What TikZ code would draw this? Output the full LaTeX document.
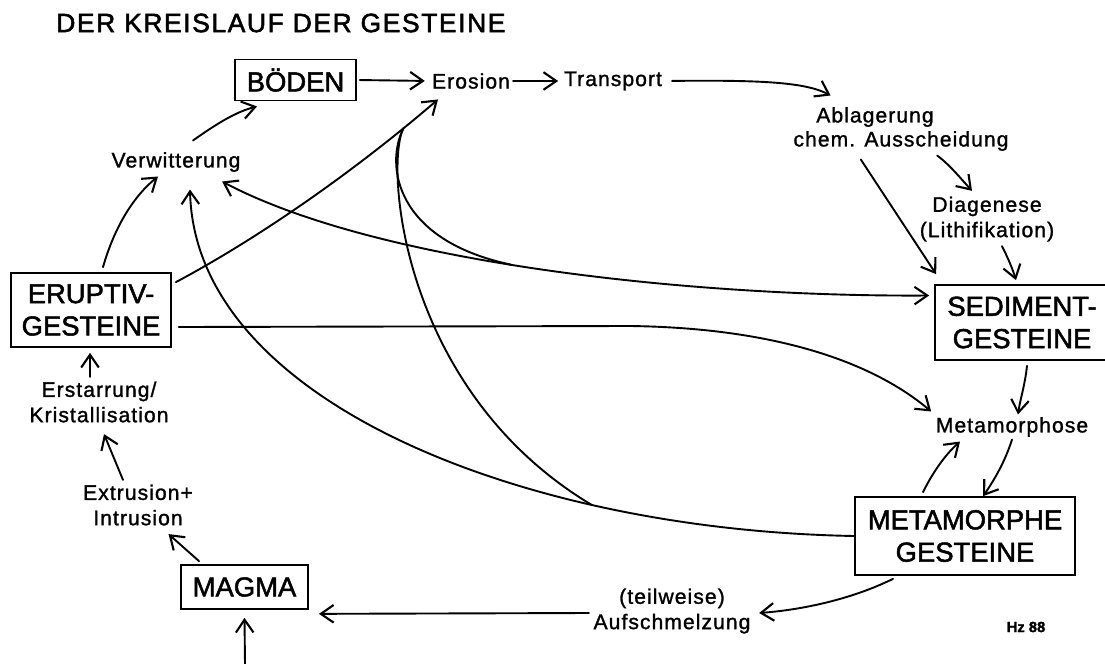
\documentclass[tikz,border=0pt]{standalone}
\usepackage{fontspec}
\setmainfont[FakeBold=1.6]{Liberation Sans}
\newfontfamily\rockfamily[FakeBold=1.8]{Liberation Sans}
\newfontfamily\lblfamily[LetterSpace=5, FakeBold=1.3]{Liberation Sans}
\newfontfamily\ttlfamily[LetterSpace=6, FakeBold=2]{Liberation Sans}
\usetikzlibrary{arrows.meta,calc}
\tikzset{
  >={Straight Barb[length=3.2mm,width=4.4mm,line width=1.5pt]},
  cyclearrow/.style={->, line width=1.35pt, line cap=round, line join=round},
  twoarrow/.style={<->, line width=1.35pt, line cap=round, line join=round},
  plainline/.style={line width=1.35pt, line cap=round},
  steplabel/.style={font=\lblfamily\fontsize{15}{18}\selectfont, align=center, inner sep=1pt}
}

\begin{document}
\begin{tikzpicture}[
  x=0.025cm, y=-0.025cm,
  rock/.style={draw, line width=1.2pt, align=center, inner sep=0pt, font=\rockfamily\fontsize{19.5}{23}\selectfont}
]
\useasboundingbox (0,0) rectangle (1105,664);

% title
\node[anchor=west, inner sep=0pt, font=\ttlfamily\fontsize{18.8}{22}\selectfont] (title) at (56,23) {DER KREISLAUF DER GESTEINE};

% rocks
\node[rock, minimum width=3.03cm, minimum height=1.03cm] (boden) at (295.5,80) {BÖDEN};
\node[rock, minimum width=4cm, minimum height=1.85cm] (erupt) at (91,310) {ERUPTIV-\\GESTEINE};
\node[rock, minimum width=4.35cm, minimum height=1.875cm] (sedim) at (1022,322.5) {SEDIMENT-\\GESTEINE};
\node[rock, minimum width=5.5cm, minimum height=1.95cm] (metam) at (965,536) {METAMORPHE\\GESTEINE};
\node[rock, minimum width=3.18cm, minimum height=1.1cm] (magma) at (244.5,587) {MAGMA};

% processes
\node[steplabel] (verwitt) at (176,162) {Verwitterung};
\node[steplabel] (erosion) at (471,81) {Erosion};
\node[steplabel] (transport) at (613,81) {Transport};
\node[steplabel] (ablag) at (875,117) {Ablagerung};
\node[steplabel] (chem) at (901,141) {chem. Ausscheidung};
\node[steplabel] (diagen) at (987,219) {Diagenese\\(Lithifikation)};
\node[steplabel] (metaphose) at (1012,427) {Metamorphose};
\node[steplabel] (aufs) at (672,611) {(teilweise)\\Aufschmelzung};
\node[steplabel] (extru) at (138,505) {Extrusion+\\Intrusion};
\node[steplabel] (erstarr) at (99,402) {Erstarrung/\\Kristallisation};
\node[inner sep=0pt, font=\bfseries\fontsize{10.5}{12}\selectfont] (hz) at (1026,627) {Hz 88};
\coordinate (magmain) at (245,664);

% upper track
\draw[cyclearrow, shorten <=2pt, shorten >=4pt] (boden.east) -- (erosion.west);
\draw[cyclearrow, shorten <=1pt, shorten >=3pt] (erosion.east) -- (transport.west);
\draw[cyclearrow, shorten <=6pt] (transport.east) .. controls (760,80) and (805,82) .. ($(ablag.north west)+(16,-10)$);
\draw[cyclearrow] ($(chem.south west)+(69,7)$) -- ($(sedim.north west)+(2,-10)$);
\draw[cyclearrow] ($(chem.south east)+(-73,3)$) .. controls (950,165) and (962,180) .. ($(diagen.north)+(-15,-4)$);
\draw[cyclearrow] ($(diagen.south)+(15,3)$) .. controls (1008,258) and (1013,270) .. ($(sedim.north)+(-6,-4)$);

% right side
\draw[cyclearrow] ($(sedim.south)+(5,5)$) .. controls (1025,385) and (1020,400) .. ($(metaphose.north)+(6,-1)$);
\draw[cyclearrow] ($(metaphose.south)+(0,1)$) .. controls (1005,462) and (993,482) .. ($(metam.north)+(18,0)$);
\draw[cyclearrow] ($(metam.north)+(-42,-4)$) .. controls (933,472) and (945,455) .. ($(metaphose.south)+(-52,3)$);
\draw[cyclearrow] ($(metam.south)+(-72,3)$) .. controls (850,600) and (800,610) .. ($(aufs.east)+(7,2)$);

% lower and left side
\draw[cyclearrow] ($(aufs.west)+(-3,2)$) -- ($(magma.south east)+(10,4)$);
\draw[cyclearrow] (magmain) -- ($(magma.south)+(0,8)$);
\draw[cyclearrow] ($(magma.north west)+(19,-3)$) -- ($(extru.south east)+(-26,7)$);
\draw[cyclearrow] ($(extru.north)+(-15,-3)$) -- ($(erstarr.south)+(5,10)$);
\draw[cyclearrow] ($(erstarr.north)+(-9,-3)$) -- ($(erupt.south)+(-1,5)$);
\draw[cyclearrow] ($(erupt.north)+(12,-5)$) .. controls (115,225) and (135,195) .. ($(verwitt.south)+(-18,3)$);
\draw[cyclearrow] ($(verwitt.north)+(17,-10)$) .. controls (215,125) and (235,112) .. ($(boden.south)+(-38.5,5)$);

% long curves across the cycle
\draw[cyclearrow] ($(erupt.north east)+(4,10)$) .. controls (255,240) and (350,175) .. coordinate[pos=0.87] (erojoin) ($(erosion.south)+(-33,9)$);
\draw[cyclearrow] ($(erupt.east)+(7,17)$) -- (630,326) .. controls (780,328) and (875,364) .. ($(metaphose.north west)+(-3,-4)$);
\draw[twoarrow] ($(sedim.west)+(-5,-27)$) .. controls (700,297) and (380,265) .. coordinate[pos=0.55] (sedjoin) ($(verwitt.south east)+(-20,8)$);
\draw[cyclearrow] (metam.west) .. controls (520,530) and (195,400) .. coordinate[pos=0.27] (metjoin) ($(verwitt.south)+(14,16)$);
\draw[plainline] (erojoin) .. controls (385,165) and (395,240) .. (sedjoin);
\draw[plainline] (erojoin) .. controls (385,165) and (400,390) .. (metjoin);
\end{tikzpicture}
\end{document}
